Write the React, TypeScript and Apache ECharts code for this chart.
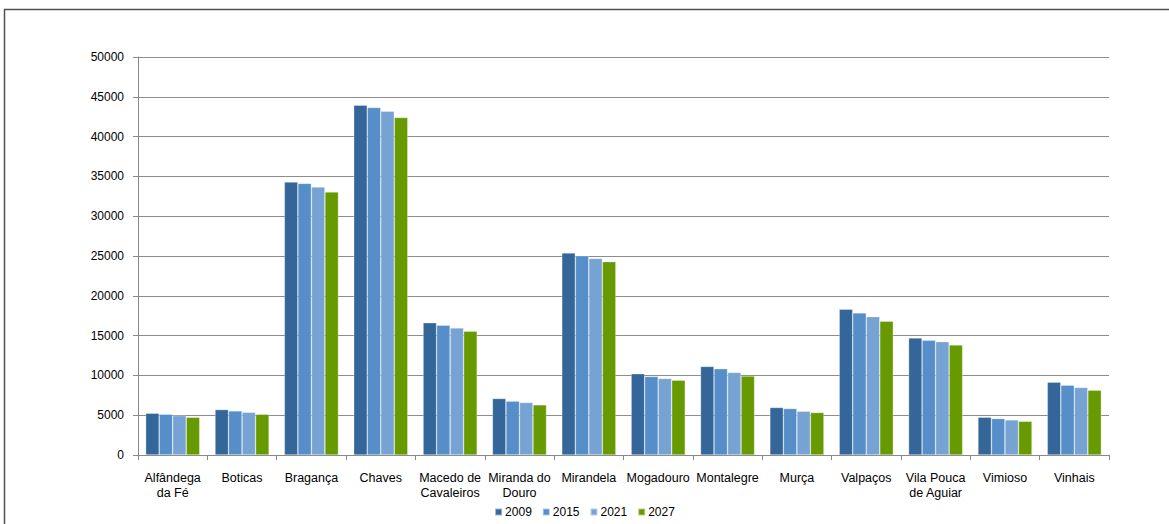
import React, { useEffect, useRef } from "react";
import * as echarts from "echarts";

const categories = [
  "Alfândega\nda Fé",
  "Boticas",
  "Bragança",
  "Chaves",
  "Macedo de\nCavaleiros",
  "Miranda do\nDouro",
  "Mirandela",
  "Mogadouro",
  "Montalegre",
  "Murça",
  "Valpaços",
  "Vila Pouca\nde Aguiar",
  "Vimioso",
  "Vinhais",
];

const seriesNames = ["2009", "2015", "2021", "2027"];

const v2009 = [5250, 5710, 34300, 43950, 16620, 7100, 25380, 10210, 11130, 5970, 18320, 14710, 4750, 9160];
const v2015 = [5120, 5540, 34130, 43660, 16300, 6770, 25040, 9870, 10840, 5840, 17860, 14410, 4580, 8780];
const v2021 = [4950, 5370, 33670, 43200, 15970, 6600, 24700, 9620, 10380, 5500, 17390, 14240, 4410, 8490];
const v2027 = [4740, 5120, 33040, 42400, 15550, 6300, 24290, 9410, 9920, 5340, 16810, 13820, 4240, 8150];

const colors = ["#346699", "#558ec8", "#76a3d4", "#669a00"];

export default function App() {
  const ref = useRef<HTMLDivElement>(null);
  useEffect(() => {
    if (!ref.current) return;
    const chart = echarts.init(ref.current, null, { renderer: "svg" });
    const allData = [v2009, v2015, v2021, v2027];
    chart.setOption({
      animation: false,
      textStyle: { fontFamily: "Liberation Sans, Arial, sans-serif" },
      graphic: [
        {
          type: "rect",
          shape: { x: 4.5, y: 9.5, width: 1300, height: 700 },
          style: { fill: "none", stroke: "#505050", lineWidth: 1.5 },
          silent: true,
        },
      ],
      legend: {
        data: seriesNames,
        top: 501,
        left: "center",
        itemWidth: 7,
        itemHeight: 7,
        itemGap: 10,
        icon: "rect",
        textStyle: { fontSize: 12, color: "#000", padding: [0, 0, 0, -2] },
      },
      grid: { left: 138, right: 60, top: 57, bottom: 69, containLabel: false },
      xAxis: {
        type: "category",
        data: categories,
        axisLine: { lineStyle: { color: "#888", width: 1 } },
        axisTick: { show: true, length: 5, lineStyle: { color: "#888" } },
        axisLabel: {
          interval: 0,
          color: "#000",
          fontSize: 12.5,
          lineHeight: 15,
          margin: 15,
        },
      },
      yAxis: {
        type: "value",
        min: 0,
        max: 50000,
        interval: 5000,
        axisLine: { show: true, lineStyle: { color: "#888", width: 1 } },
        axisTick: { show: true, length: 5, inside: false, lineStyle: { color: "#888" } },
        axisLabel: { color: "#000", fontSize: 12, margin: 14, formatter: (v: number) => String(v) },
        splitLine: { lineStyle: { color: "#8c8c8c", width: 1 } },
      },
      series: seriesNames.map((name, i) => ({
        name,
        type: "bar",
        data: allData[i],
        barGap: "0%",
        barCategoryGap: "22%",
        itemStyle: {
          color: colors[i],
          borderColor: "rgba(255,255,255,0.5)",
          borderWidth: 0.6,
        },
      })),
    });
    return () => chart.dispose();
  }, []);
  return (
    <div
      ref={ref}
      style={{ position: "fixed", left: 0, top: 0, width: 1169, height: 524, background: "#fff" }}
    />
  );
}
